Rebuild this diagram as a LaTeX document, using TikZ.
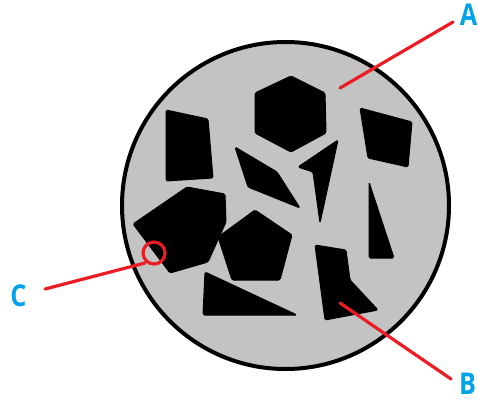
\documentclass[tikz,border=0pt]{standalone}
\usepackage{fontspec}
\newfontfamily\labfont{Open Sans}
\definecolor{discgray}{HTML}{C3C3C3}
\definecolor{markred}{HTML}{ED1C24}
\definecolor{labblue}{HTML}{00A2E8}
\newcommand{\narrowlab}[1]{\scalebox{0.84}[1]{#1}}
\tikzset{
  grain/.style={fill=black, draw=black, line width=1pt, rounded corners=1.5pt, line join=round},
  pointer/.style={draw=markred, line width=3.2pt, line cap=round},
  lab/.style={text=labblue, font=\labfont\bfseries\fontsize{30}{30}\selectfont, inner sep=0pt, anchor=center}
}
\begin{document}
\begin{tikzpicture}[x=1pt,y=-1pt]
\useasboundingbox (0,0) rectangle (478,400);
% disc
\draw[fill=discgray, line width=4pt] (285.5,205.5) circle[radius=163.5];
% grains
\draw[grain] (166,110) -- (208,119) -- (213,178) -- (166,181) -- cycle;
\draw[grain] (291,76) -- (325,93) -- (326,133) -- (291,152) -- (255,133) -- (255,93) -- cycle;
\draw[grain] (235,147) -- (277,172) -- (300,208) -- (248,187) -- cycle;
\draw[grain] (338,140) -- (298,167) -- (313,172) -- (320,223) -- cycle;
\draw[grain] (360,108) -- (412,122) -- (408,167) -- (368,158) -- cycle;
\draw[grain] (369,182) -- (394,258) -- (369,258) -- cycle;
\draw[grain] (133,224) -- (187,187) -- (225,194) -- (226,222) -- (208,262) -- (170,273) -- cycle;
\draw[grain] (255,210) -- (292,235) -- (280,280) -- (232,280) -- (218,237) -- cycle;
\draw[grain] (205,272) -- (297,315) -- (203,315) -- cycle;
\draw[grain] (315,245) -- (346,250) -- (350,280) -- (378,310) -- (325,320) -- cycle;
% labels
\node[lab] (A) at (468.5,15) {\narrowlab{A}};
\node[lab] (B) at (467.5,383.5) {\narrowlab{B}};
\node[lab] (C) at (18.5,296) {\narrowlab{C}};
% pointers
\coordinate (pa) at (340,88);
\coordinate (pa2) at (453,22);
\coordinate (pb) at (340,303);
\coordinate (pb2) at (451,379);
\coordinate (pc) at (145,263);
\coordinate (pc2) at (45,289);
\draw[pointer] (pa) -- (pa2);
\draw[pointer] (pb) -- (pb2);
\draw[pointer] (pc) -- (pc2);
\node[draw=markred, line width=3.2pt, circle, minimum size=22pt, inner sep=0pt] (ring) at (154,253) {};
\end{tikzpicture}
\end{document}
